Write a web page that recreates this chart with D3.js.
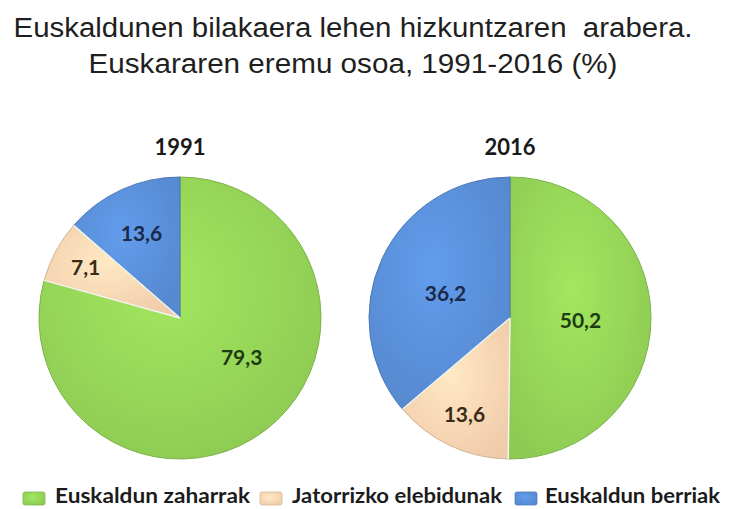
<!DOCTYPE html>
<html>
<head>
<meta charset="utf-8">
<script src="https://cdn.jsdelivr.net/npm/d3@7"></script>
<style>
  body { margin: 0; background: #fff; }
  text { white-space: pre; }
</style>
</head>
<body>
<div id="chart"></div>
<script>
// chart data
var titleLines = ["Euskaldunen bilakaera lehen hizkuntzaren  arabera.", "Euskararen eremu osoa, 1991-2016 (%)"];
var categories = ["Euskaldun zaharrak", "Jatorrizko elebidunak", "Euskaldun berriak"];
var years = ["1991", "2016"];
var values1991 = [79.3, 7.1, 13.6];
var values2016 = [50.2, 13.6, 36.2];
var colors = ["#94d357", "#fcd5b2", "#5a8fd8"];
var labelColors = ["#1e3a10", "#3b2a18", "#1b2a4a"];

var series = [values1991, values2016];

// label placement inside the slices: radius fraction + angle nudge (deg)
var labelPlace = [
    [[0.52, -20], [0.76, 0], [0.66, 0]],
    [[0.50, 2], [0.76, 0], [0.49, -4]]
];

var width = 730, height = 509;
var radius = 141, pieY = 318;

var svg = d3.select("#chart").append("svg")
    .attr("width", width)
    .attr("height", height);

var defs = svg.append("defs");
colors.forEach(function (c, i) {
    var g = defs.append("radialGradient")
        .attr("id", "grad" + i)
        .attr("cx", "45%").attr("cy", "40%").attr("r", "65%");
    g.append("stop").attr("offset", "0%").attr("stop-color", d3.color(c).brighter(0.25));
    g.append("stop").attr("offset", "100%").attr("stop-color", d3.color(c).darker(0.12));
});

// title
svg.selectAll(".title")
    .data(titleLines)
    .enter()
    .append("text")
    .attr("class", "title")
    .attr("x", 353)
    .attr("y", function (d, i) { return 37 + i * 36; })
    .attr("text-anchor", "middle")
    .attr("font-family", "Liberation Sans, Arial, sans-serif")
    .attr("font-size", 27)
    .attr("fill", "#1f1f1f")
    .attr("textLength", function (d, i) { return i == 0 ? 679 : 529; })
    .attr("lengthAdjust", "spacingAndGlyphs")
    .text(function (d) { return d; });

var x = d3.scaleBand()
    .domain(years)
    .range([15, 675]);

var pie = d3.pie().sort(null).value(function (d) { return d; });
var arc = d3.arc().innerRadius(0).outerRadius(radius);

var fmt = d3.formatLocale({ decimal: ",", thousands: ".", grouping: [3], currency: ["", ""] }).format(".1f");

years.forEach(function (year, yi) {
    var cx = x(year) + x.bandwidth() / 2;
    var g = svg.append("g").attr("transform", "translate(" + cx + "," + pieY + ")");
    var arcs = pie(series[yi]);

    g.selectAll("path")
        .data(arcs)
        .enter()
        .append("path")
        .attr("d", arc)
        .attr("fill", function (d, i) { return "url(#grad" + i + ")"; })
        .attr("stroke", function (d, i) { return d3.color(colors[i]).darker(0.5); })
        .attr("stroke-width", 1);

    // light separators between slices
    g.selectAll("line.sep")
        .data(arcs.filter(function (d, i) { return i > 0; }))
        .enter()
        .append("line")
        .attr("class", "sep")
        .attr("x1", 0).attr("y1", 0)
        .attr("x2", function (d) { return radius * Math.sin(d.startAngle); })
        .attr("y2", function (d) { return -radius * Math.cos(d.startAngle); })
        .attr("stroke", "#f4f8ee")
        .attr("stroke-width", 1.5);

    g.selectAll("text.val")
        .data(arcs)
        .enter()
        .append("text")
        .attr("class", "val")
        .attr("x", function (d, i) {
            var p = labelPlace[yi][i];
            var a = (d.startAngle + d.endAngle) / 2 + p[1] * Math.PI / 180;
            return p[0] * radius * Math.sin(a);
        })
        .attr("y", function (d, i) {
            var p = labelPlace[yi][i];
            var a = (d.startAngle + d.endAngle) / 2 + p[1] * Math.PI / 180;
            return -p[0] * radius * Math.cos(a);
        })
        .attr("dy", "0.35em")
        .attr("text-anchor", "middle")
        .attr("font-family", "Lato, sans-serif")
        .attr("font-weight", "bold")
        .attr("font-size", 21)
        .attr("fill", function (d, i) { return labelColors[i]; })
        .text(function (d) { return fmt(d.value); });

    svg.append("text")
        .attr("x", cx)
        .attr("y", 155)
        .attr("text-anchor", "middle")
        .attr("font-family", "Lato, sans-serif")
        .attr("font-weight", "bold")
        .attr("font-size", 22)
        .attr("fill", "#1a1a1a")
        .text(year);
});

// legend
var legendX = [23, 260, 515];
var legendW = [195, 210, 175];
var legend = svg.selectAll(".legend")
    .data(categories)
    .enter()
    .append("g")
    .attr("class", "legend")
    .attr("transform", function (d, i) { return "translate(" + legendX[i] + ",492)"; });

legend.append("rect")
    .attr("width", 22)
    .attr("height", 13)
    .attr("rx", 2)
    .attr("fill", function (d, i) { return "url(#grad" + i + ")"; })
    .attr("stroke", function (d, i) { return d3.color(colors[i]).darker(0.4); })
    .attr("stroke-width", 0.8);

legend.append("text")
    .attr("x", function (d, i) { return i == 2 ? 30 : 32; })
    .attr("y", 11)
    .attr("font-family", "Lato, sans-serif")
    .attr("font-weight", "bold")
    .attr("font-size", 20)
    .attr("fill", "#1c1c1c")
    .attr("textLength", function (d, i) { return legendW[i]; })
    .attr("lengthAdjust", "spacingAndGlyphs")
    .text(function (d) { return d; });
</script>
</body>
</html>
